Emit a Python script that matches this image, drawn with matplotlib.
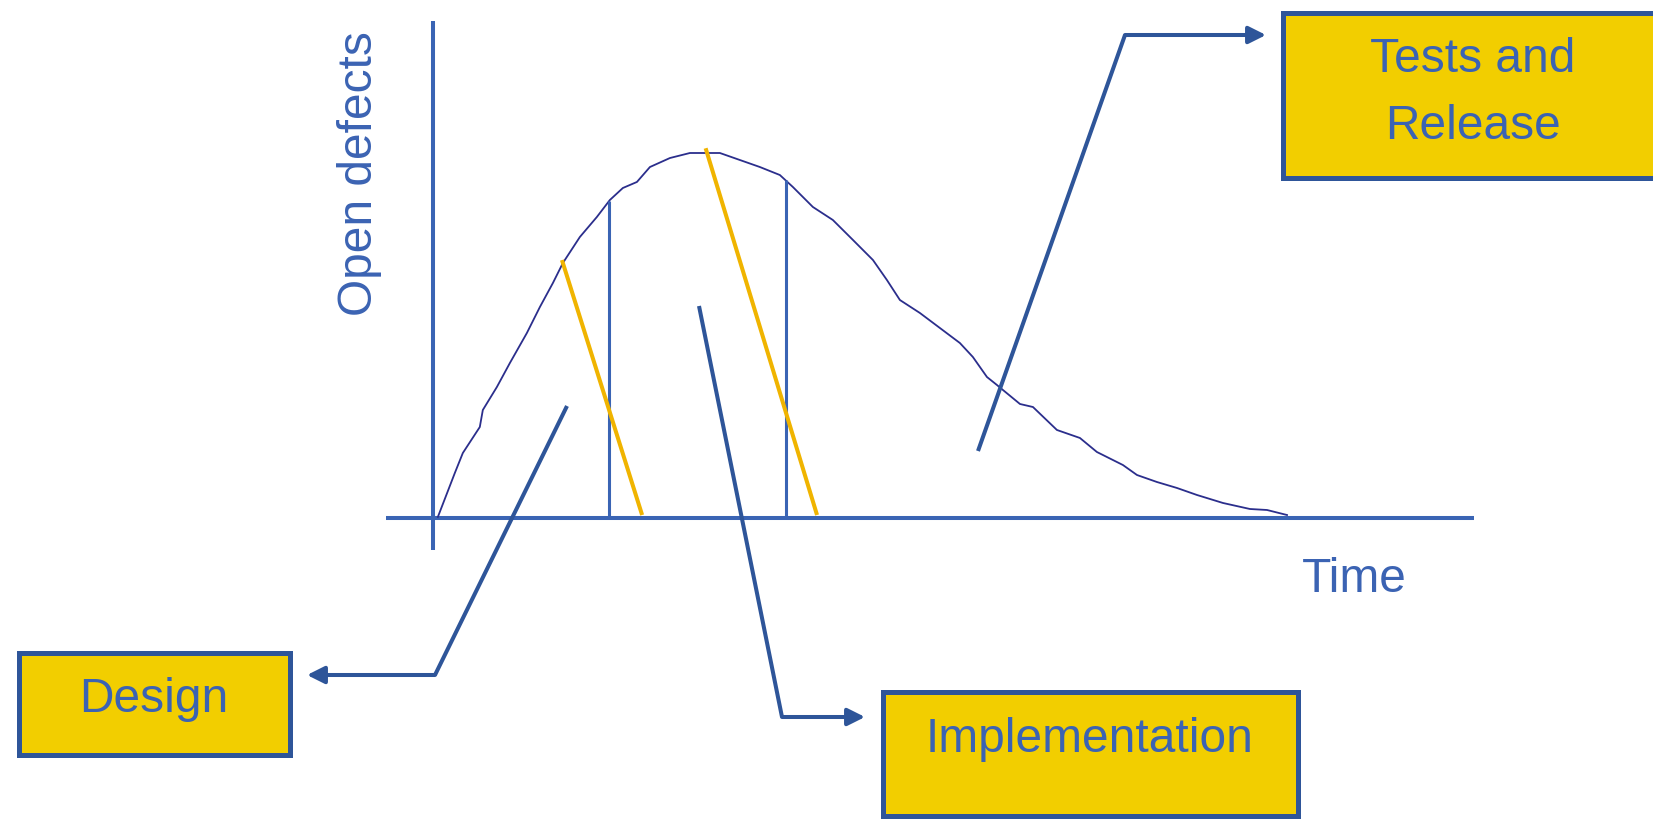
import numpy as np
import matplotlib.pyplot as plt
from matplotlib.patches import Rectangle

plt.rcParams['font.family'] = ['Liberation Sans', 'DejaVu Sans']

# open defects over time (arbitrary units)
time = [0.48, 2.11, 2.88, 4.51, 4.80, 6.15, 7.40, 9.03, 10.28, 11.53, 12.49,
        14.12, 15.75, 17.00, 18.25, 19.60, 20.85, 22.77, 24.69, 26.13, 27.57,
        29.49, 31.41, 33.33, 34.58, 36.50, 38.42, 40.35, 42.27, 43.61, 44.86,
        46.78, 48.70, 50.62, 51.87, 53.22, 54.18, 54.76, 56.39, 57.64, 59.94,
        62.15, 63.78, 66.28, 67.63, 69.55, 71.47, 73.39, 75.89, 78.48, 80.12,
        82.04]
defects = [0.20, 9.05, 13.08, 18.31, 21.73, 26.36, 31.19, 37.22, 42.45, 47.28,
           51.31, 56.54, 60.56, 63.98, 66.40, 67.61, 70.62, 72.43, 73.44, 73.44,
           73.44, 72.03, 70.62, 69.01, 66.60, 62.58, 59.96, 55.94, 51.91, 47.89,
           43.86, 41.25, 38.23, 35.21, 32.39, 28.37, 26.76, 25.75, 22.94, 22.33,
           17.71, 16.10, 13.28, 10.66, 8.65, 7.24, 6.04, 4.63, 3.02, 1.81, 1.61,
           0.60]

# end of design / end of implementation
phase_ends = [16.9, 33.9]
# overlap markers between phases: (t_start, d_start, t_end, d_end)
overlaps = [(12.4, 51.9, 20.1, 0.6), (26.2, 74.4, 36.9, 0.6)]

phase_names = ['Design', 'Implementation', 'Tests and\nRelease']

W, H = 1653, 819
AXIS_BLUE = '#3a64b4'
TEXT_BLUE = '#3b63b3'
DARK_BLUE = '#2e5599'
CURVE = '#2b2e8c'
ORANGE = '#f0b400'
FILL = '#f2ce00'
FS = 34.5

fig = plt.figure(figsize=(W / 100, H / 100), dpi=100)
fig.patch.set_facecolor('white')

# chart area
ax = fig.add_axes([386 / W, (H - 550) / H, (1474 - 386) / W, (550 - 21) / H])
ax.set_xlim(-4.5, 100)
ax.set_ylim(-6.44, 100)
ax.axis('off')
ax.axhline(0, color=AXIS_BLUE, lw=2.9)
ax.axvline(0, color=AXIS_BLUE, lw=2.9)
ax.plot(time, defects, color=CURVE, lw=1.3)
ax.vlines(phase_ends, 0, np.interp(phase_ends, time, defects),
          color=AXIS_BLUE, lw=2.2)
for t0, d0, t1, d1 in overlaps:
    ax.plot([t0, t1], [d0, d1], color=ORANGE, lw=2.9, solid_capstyle='butt')

# annotation layer in pixel coordinates
ov = fig.add_axes([0, 0, 1, 1])
ov.set_xlim(0, W)
ov.set_ylim(H, 0)
ov.axis('off')

ov.text(372, 174, 'Open defects', rotation=90, fontsize=FS, color=TEXT_BLUE,
        ha='center', va='baseline', rotation_mode='anchor')
ov.text(1354, 592, 'Time', fontsize=FS, color=TEXT_BLUE, ha='center', va='baseline')

pointers = [
    [(567, 406), (435, 675), (307, 675)],
    [(699, 306), (782, 717), (865, 717)],
    [(978, 451), (1125, 35), (1266, 35)],
]
for pts in pointers:
    xs, ys = zip(*pts[:2])
    ov.plot(xs, ys, color=DARK_BLUE, lw=2.9, solid_capstyle='butt')
    ov.annotate('', xy=pts[2], xytext=pts[1],
                arrowprops=dict(arrowstyle='-|>', color=DARK_BLUE, lw=2.9,
                                mutation_scale=26, shrinkA=0, shrinkB=0))

boxes = [(18.5, 652.5, 289.5, 754.5), (882.5, 691.5, 1297.5, 816),
         (1283, 13, 1720, 178)]
for x0, y0, x1, y1 in boxes:
    ov.add_patch(Rectangle((x0, y0), x1 - x0, y1 - y0, facecolor=FILL,
                           edgecolor=DARK_BLUE, lw=3.6))

ov.text(154, 712, phase_names[0], fontsize=FS, color=TEXT_BLUE,
        ha='center', va='baseline')
ov.text(1090, 752, phase_names[1], fontsize=FS, color=TEXT_BLUE,
        ha='center', va='baseline')
first, second = phase_names[2].split('\n')
ov.text(1473, 72, first, fontsize=FS, color=TEXT_BLUE, ha='center', va='baseline')
ov.text(1473, 139, second, fontsize=FS, color=TEXT_BLUE, ha='center', va='baseline')

fig.savefig('out.png', dpi=100)
